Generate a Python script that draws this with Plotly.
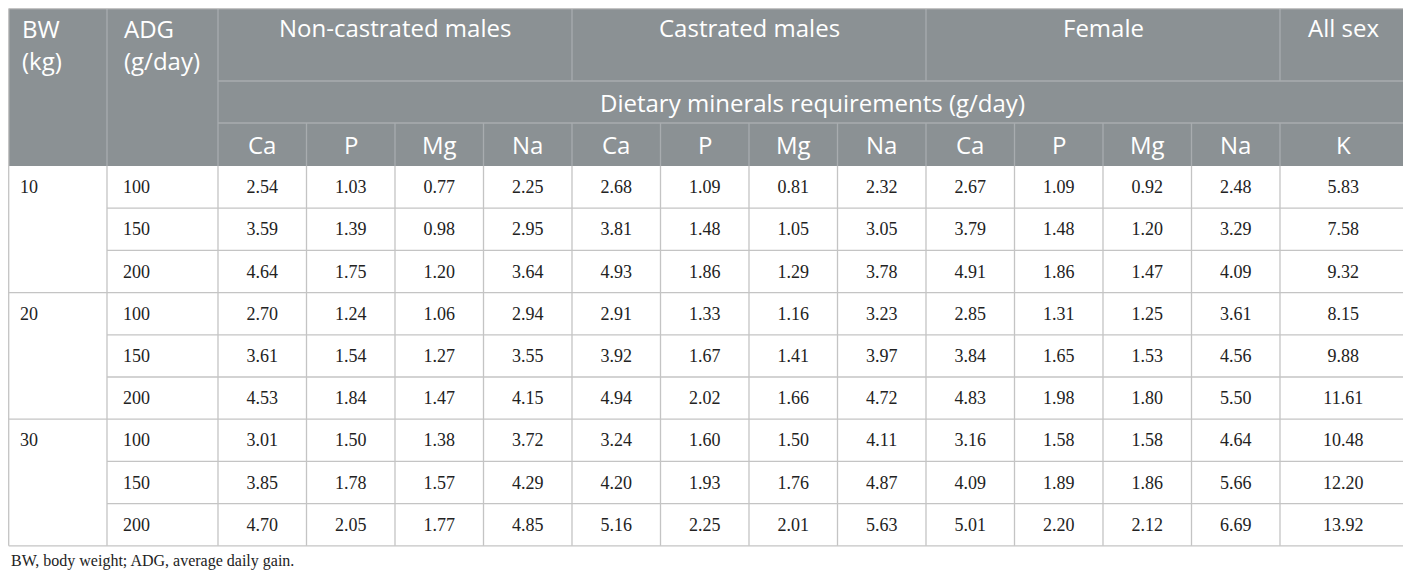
import plotly.graph_objects as go

# ---- data ----
bw = [10, 20, 30]
adg = [100, 150, 200]
minerals = ["Ca", "P", "Mg", "Na"]
groups = ["Non-castrated males", "Castrated males", "Female", "All sex"]

# rows: BW 10/100, 10/150, 10/200, 20/100 ... 30/200
ncm_ca = [2.54, 3.59, 4.64, 2.70, 3.61, 4.53, 3.01, 3.85, 4.70]
ncm_p = [1.03, 1.39, 1.75, 1.24, 1.54, 1.84, 1.50, 1.78, 2.05]
ncm_mg = [0.77, 0.98, 1.20, 1.06, 1.27, 1.47, 1.38, 1.57, 1.77]
ncm_na = [2.25, 2.95, 3.64, 2.94, 3.55, 4.15, 3.72, 4.29, 4.85]

cm_ca = [2.68, 3.81, 4.93, 2.91, 3.92, 4.94, 3.24, 4.20, 5.16]
cm_p = [1.09, 1.48, 1.86, 1.33, 1.67, 2.02, 1.60, 1.93, 2.25]
cm_mg = [0.81, 1.05, 1.29, 1.16, 1.41, 1.66, 1.50, 1.76, 2.01]
cm_na = [2.32, 3.05, 3.78, 3.23, 3.97, 4.72, 4.11, 4.87, 5.63]

fem_ca = [2.67, 3.79, 4.91, 2.85, 3.84, 4.83, 3.16, 4.09, 5.01]
fem_p = [1.09, 1.48, 1.86, 1.31, 1.65, 1.98, 1.58, 1.89, 2.20]
fem_mg = [0.92, 1.20, 1.47, 1.25, 1.53, 1.80, 1.58, 1.86, 2.12]
fem_na = [2.48, 3.29, 4.09, 3.61, 4.56, 5.50, 4.64, 5.66, 6.69]

all_k = [5.83, 7.58, 9.32, 8.15, 9.88, 11.61, 10.48, 12.20, 13.92]

value_cols = [ncm_ca, ncm_p, ncm_mg, ncm_na,
              cm_ca, cm_p, cm_mg, cm_na,
              fem_ca, fem_p, fem_mg, fem_na,
              all_k]
value_heads = minerals * 3 + ["K"]

# ---- layout (pixels, as in the picture) ----
W, H = 1411, 577
OFF = 8  # page body margin, compensated in axis ranges
x_left, x_bw, x_adg = OFF + 0.7, 107, 218
min_w = 88.5
x_edges = [x_left, x_bw, x_adg] + [x_adg + min_w * i for i in range(1, 13)] + [1406.5]
y_top, y_h1, y_h2, y_head = OFF + 0.7, 81, 123, 166
row_h = 42.2
n_rows = len(ncm_ca)
y_rows = [y_head + row_h * i for i in range(n_rows + 1)]
y_bottom = y_rows[-1]

head_bg = "#8b9194"
head_line = "#a8acaf"
grid = "#c4c4c4"
txt = "#222222"
head_font = dict(family="Open Sans", size=24, color="white")
cell_font = dict(family="Liberation Serif", size=18, color=txt)

shapes = []


def line(x0, y0, x1, y1, color):
    shapes.append(dict(type="line", x0=x0, y0=y0, x1=x1, y1=y1,
                       line=dict(color=color, width=1.3)))


# header background
shapes.append(dict(type="rect", x0=x_left, y0=y_top, x1=x_edges[-1], y1=y_head,
                   fillcolor=head_bg, line=dict(width=0), layer="below"))

# header lines
line(x_bw, y_top, x_bw, y_head, head_line)
line(x_adg, y_top, x_adg, y_head, head_line)
for gx in [x_edges[6], x_edges[10], x_edges[14]]:
    line(gx, y_top, gx, y_h1, head_line)
line(x_adg, y_h1, x_edges[-1], y_h1, head_line)
line(x_adg, y_h2, x_edges[-1], y_h2, head_line)
for gx in x_edges[3:15]:
    line(gx, y_h2, gx, y_head, head_line)

# body grid
line(x_left, y_top, x_edges[-1], y_top, grid)
for gx in x_edges:
    line(gx, y_head, gx, y_bottom, grid)
line(x_left, y_top, x_left, y_head, grid)
line(x_edges[-1], y_top, x_edges[-1], y_head, grid)
for i, gy in enumerate(y_rows[1:], start=1):
    x_start = x_left if i % 3 == 0 else x_bw
    line(x_start, gy, x_edges[-1], gy, grid)

annotations = []


def head(text, x, y, xanchor="center"):
    annotations.append(dict(x=x, y=y, text=text, showarrow=False, xanchor=xanchor,
                            yanchor="middle", font=head_font))


head("BW", 20, 28, "left")
head("(kg)", 20, 60, "left")
head("ADG", x_bw + 15, 28, "left")
head("(g/day)", x_bw + 15, 60, "left")
group_spans = [(x_edges[2], x_edges[6]), (x_edges[6], x_edges[10]),
               (x_edges[10], x_edges[14]), (x_edges[14], x_edges[15])]
for name, (a, b) in zip(groups, group_spans):
    head(name, (a + b) / 2, 27)
head("Dietary minerals requirements (g/day)", (x_adg + x_edges[-1]) / 2, (y_h1 + y_h2) / 2)
for j, name in enumerate(value_heads):
    head(name, (x_edges[j + 2] + x_edges[j + 3]) / 2, (y_h2 + y_head) / 2)

annotations.append(dict(x=OFF + 0.5, y=y_bottom + 15.5, text="BW, body weight; ADG, average daily gain.",
                        showarrow=False, xanchor="left", yanchor="middle",
                        font=dict(family="Liberation Serif", size=16, color=txt)))

fig = go.Figure()
row_mid = [(y_rows[i] + y_rows[i + 1]) / 2 + 1.5 for i in range(n_rows)]

# BW and ADG columns (left aligned)
fig.add_trace(go.Scatter(x=[20] * len(bw), y=row_mid[::3], text=[str(v) for v in bw],
                         mode="text", textposition="middle right", textfont=cell_font,
                         hoverinfo="skip", showlegend=False))
fig.add_trace(go.Scatter(x=[x_bw + 16] * n_rows, y=row_mid, text=[str(v) for v in adg * len(bw)],
                         mode="text", textposition="middle right", textfont=cell_font,
                         hoverinfo="skip", showlegend=False))

for j, col in enumerate(value_cols):
    cx = (x_edges[j + 2] + x_edges[j + 3]) / 2
    fig.add_trace(go.Scatter(x=[cx] * n_rows, y=row_mid, text=[f"{v:.2f}" for v in col],
                             mode="text", textposition="middle center", textfont=cell_font,
                             hoverinfo="skip", showlegend=False))

fig.update_layout(
    width=W, height=H,
    margin=dict(l=0, r=0, t=0, b=0),
    paper_bgcolor="white", plot_bgcolor="white",
    xaxis=dict(range=[OFF, W + OFF], visible=False, fixedrange=True),
    yaxis=dict(range=[H + OFF, OFF], visible=False, fixedrange=True),
    shapes=shapes, annotations=annotations,
)

fig.write_html("out.html")
